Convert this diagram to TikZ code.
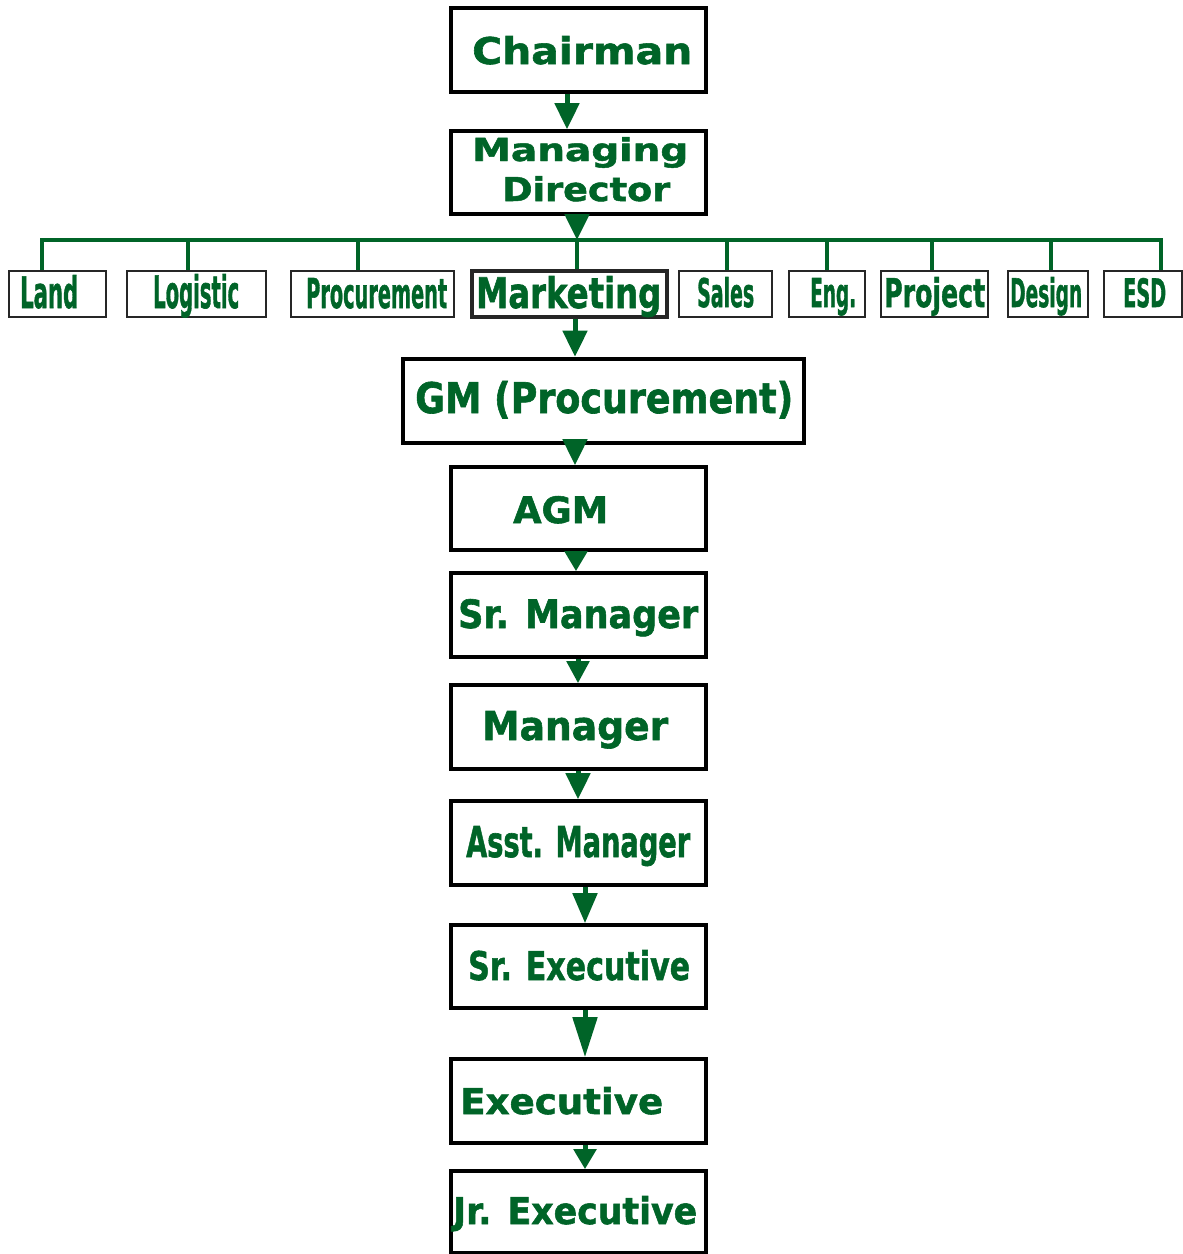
\documentclass[tikz,border=0pt]{standalone}
\usepackage{fontspec}
\usepackage{graphicx}
\setmainfont{DejaVu Sans}[BoldFeatures={FakeBold=1.5}]
\usetikzlibrary{arrows.meta}
\definecolor{dg}{RGB}{0,100,40}
\newcommand\fitT[3]{\resizebox{#1pt}{#2pt}{\bfseries #3}}
\begin{document}
\begin{tikzpicture}[x=1pt,y=-1pt,
  box/.style={draw=black,line width=3.6pt,inner sep=0pt},
  dbox/.style={draw=black!85,line width=2.6pt,inner sep=0pt,minimum height=46pt},
  txt/.style={inner sep=0pt,text=dg,anchor=base west},
  arr/.style={draw=dg,line width=5pt,-{Triangle[width=24pt,length=26pt]}},
  bus/.style={draw=dg,line width=4.5pt}]
\useasboundingbox (0,0) rectangle (1183,1254);
% main boxes
\node[box,minimum width=255pt,minimum height=84pt] (chair) at (578.5,50) {};
\node[box,minimum width=255pt,minimum height=83pt] (md) at (578.5,172.5) {};
\node[box,line width=4.6pt,minimum width=401pt,minimum height=84pt] (gm) at (603.5,401) {};
\node[box,minimum width=255pt,minimum height=83pt] (agm) at (578.5,508.5) {};
\node[box,minimum width=255pt,minimum height=84pt] (srmgr) at (578.5,615) {};
\node[box,minimum width=255pt,minimum height=84pt] (mgr) at (578.5,727) {};
\node[box,minimum width=255pt,minimum height=84pt] (asst) at (578.5,843) {};
\node[box,minimum width=255pt,minimum height=83pt] (srexec) at (578.5,966.5) {};
\node[box,minimum width=255pt,minimum height=84pt] (exec) at (578.5,1101) {};
\node[box,minimum width=255pt,minimum height=82pt] (jrexec) at (578.5,1212) {};
% department boxes
\node[dbox,minimum width=97pt] (land) at (57.5,294) {};
\node[dbox,minimum width=139pt] (logistic) at (196.5,294) {};
\node[dbox,minimum width=163pt] (procurement) at (372.5,294) {};
\node[dbox,line width=3.4pt,minimum width=195pt] (marketing) at (569.5,294) {};
\node[dbox,minimum width=93pt] (sales) at (725.5,294) {};
\node[dbox,minimum width=76pt] (eng) at (827,294) {};
\node[dbox,minimum width=107pt] (project) at (934.5,294) {};
\node[dbox,minimum width=80pt] (design) at (1048,294) {};
\node[dbox,minimum width=78pt] (esd) at (1143,294) {};
% texts
\node[txt] (tchair) at (472,64) {\fitT{220}{28}{Chairman}};
\node[txt] (tmd1) at (472,161) {\fitT{216}{24}{Managing}};
\node[txt] (tmd2) at (502,201) {\fitT{168}{25}{Director}};
\node[txt] (tgm) at (415,413) {\fitT{378}{32}{GM (Procurement)}};
\node[txt] (tagm) at (513,523) {\fitT{95}{27}{AGM}};
\node[txt] (tsrmgr) at (458,628) {\fitT{240}{29}{Sr. Manager}};
\node[txt] (tmgr) at (482,740) {\fitT{186}{29}{Manager}};
\node[txt] (tasst) at (466,857) {\fitT{224}{31}{Asst. Manager}};
\node[txt] (tsrexec) at (468,980) {\fitT{222}{30}{Sr. Executive}};
\node[txt] (texec) at (460,1114) {\fitT{203}{27}{Executive}};
\node[txt] (tjrexec) at (453,1224) {\fitT{244}{28}{Jr. Executive}};
\node[txt] (tland) at (20,308) {\fitT{58}{33}{Land}};
\node[txt] (tlogistic) at (153,308) {\fitT{86}{34}{Logistic}};
\node[txt] (tprocurement) at (306,308) {\fitT{141}{30}{Procurement}};
\node[txt] (tmarketing) at (476,308) {\fitT{185}{32}{Marketing}};
\node[txt] (tsales) at (697,307) {\fitT{57}{30}{Sales}};
\node[txt] (teng) at (810,307) {\fitT{46}{29}{Eng.}};
\node[txt] (tproject) at (884,307) {\fitT{101}{30}{Project}};
\node[txt] (tdesign) at (1010,307) {\fitT{72}{30}{Design}};
\node[txt] (tesd) at (1123,307) {\fitT{43}{29}{ESD}};
% bus
\coordinate (busy) at (0,240);
\foreach \n/\s in {land/-15.5,logistic/-8.5,procurement/-14.5,marketing/7.5,sales/1.5,eng/0,project/-2.5,design/3,esd/18}{
  \coordinate (d\n) at ([xshift=\s pt]\n.north);
}
\draw[bus] (dland) |- (desd |- busy) -- (desd);
\foreach \n in {logistic,procurement,marketing,sales,eng,project,design}{
  \draw[bus] (d\n |- busy) -- (d\n);
}
% arrows
\draw[arr] ([xshift=-11.5pt]chair.south) -- ([xshift=-11.5pt]md.north);
\draw[arr] (dmarketing |- md.south) -- (dmarketing |- busy);
\draw[arr] ([xshift=5.5pt]marketing.south) -- ([xshift=-28.5pt]gm.north);
\draw[arr] ([xshift=-28.5pt]gm.south) -- ([xshift=-3.5pt]agm.north);
\draw[arr,-{Triangle[width=22pt,length=20pt]}] ([xshift=-2.5pt]agm.south) -- ([xshift=-2.5pt]srmgr.north);
\draw[arr,-{Triangle[width=22pt,length=22pt]}] ([xshift=-0.5pt]srmgr.south) -- ([xshift=-0.5pt]mgr.north);
\draw[arr] ([xshift=-0.5pt]mgr.south) -- ([xshift=-0.5pt]asst.north);
\draw[arr,-{Triangle[width=24pt,length=30pt]}] ([xshift=6.5pt]asst.south) -- ([xshift=6.5pt]srexec.north);
\draw[arr,-{Triangle[width=24pt,length=40pt]}] ([xshift=6.5pt]srexec.south) -- ([xshift=6.5pt]exec.north);
\draw[arr,-{Triangle[width=22pt,length=20pt]}] ([xshift=6.5pt]exec.south) -- ([xshift=6.5pt]jrexec.north);
\end{tikzpicture}
\end{document}
